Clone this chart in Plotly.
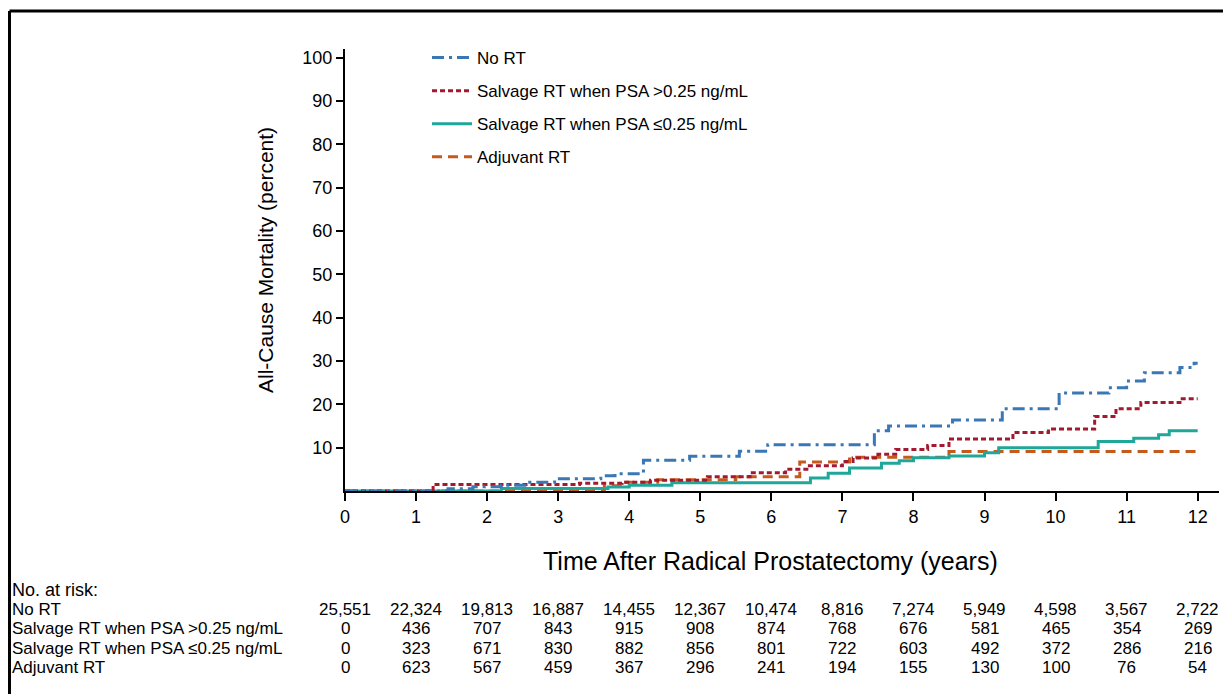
import plotly.graph_objects as go

# ---------------- data ----------------
series_names = ["No RT", "Salvage RT when PSA >0.25 ng/mL",
                "Salvage RT when PSA ≤0.25 ng/mL", "Adjuvant RT"]

t_no_rt = [0, 1.45, 1.8, 2.2, 2.6, 2.95, 3.6, 3.8, 4.2, 4.85, 5.55, 5.95, 7.45, 7.65,
           8.55, 9.25, 10.05, 10.75, 11.0, 11.25, 11.75, 11.95, 12.0]
m_no_rt = [0, 0.5, 1.0, 1.3, 2.0, 2.8, 3.5, 4.0, 7.1, 8.0, 9.2, 10.7, 13.9, 15.0,
           16.4, 19.0, 22.6, 23.8, 25.4, 27.3, 28.5, 29.5, 29.5]

t_salv_hi = [0, 1.24, 3.3, 3.9, 4.3, 5.1, 5.7, 6.2, 6.5, 7.0, 7.15, 7.5, 7.75, 8.2,
             8.5, 9.4, 9.9, 10.55, 10.85, 11.2, 11.75, 12.0]
m_salv_hi = [0, 1.5, 1.8, 2.0, 2.5, 3.3, 4.2, 5.0, 5.8, 6.8, 7.6, 8.5, 9.6, 10.5,
             12.0, 13.5, 14.3, 17.2, 19.0, 20.4, 21.3, 21.3]

t_salv_lo = [0, 2.2, 3.7, 4.0, 4.6, 6.55, 6.8, 7.1, 7.55, 7.8, 8.0, 8.5, 9.0, 9.2,
             10.6, 11.1, 11.45, 11.6, 12.0]
m_salv_lo = [0, 0.6, 0.9, 1.3, 1.9, 3.0, 4.1, 5.3, 6.4, 7.0, 7.7, 8.1, 8.8, 10.0,
             11.4, 12.2, 13.0, 13.9, 13.9]

t_adj = [0, 3.65, 3.95, 4.4, 5.5, 6.4, 7.1, 8.5, 12.0]
m_adj = [0, 1.2, 2.0, 2.6, 3.3, 6.7, 7.8, 9.1, 9.1]

x_ticks = list(range(0, 13))
y_ticks = [10, 20, 30, 40, 50, 60, 70, 80, 90, 100]

risk_no_rt = ["25,551", "22,324", "19,813", "16,887", "14,455", "12,367", "10,474",
              "8,816", "7,274", "5,949", "4,598", "3,567", "2,722"]
risk_salv_hi = ["0", "436", "707", "843", "915", "908", "874", "768", "676", "581",
                "465", "354", "269"]
risk_salv_lo = ["0", "323", "671", "830", "882", "856", "801", "722", "603", "492",
                "372", "286", "216"]
risk_adj = ["0", "623", "567", "459", "367", "296", "241", "194", "155", "130",
            "100", "76", "54"]

# ---------------- styles ----------------
colors = ["#3a77b5", "#a3192f", "#1fa79a", "#c65a1d"]
dashes = ["12px,5px,3px,5px", "5px,3px", "solid", "10px,6px"]
FONT = "Liberation Sans, Arial, Helvetica, sans-serif"

OFF = 8                      # page body margin of the browser
W, H = 1231 - OFF, 694 - OFF
L, R, T, B = 337, 12, 41, 203
PW, PH = W - L - R, H - T - B


def fx(px):   # window pixel x -> paper x
    return (px - OFF - L) / PW


def fy(py):   # window pixel y -> paper y
    return (H - B - (py - OFF)) / PH


fig = go.Figure()
curves = [(t_no_rt, m_no_rt), (t_salv_hi, m_salv_hi), (t_salv_lo, m_salv_lo), (t_adj, m_adj)]
for i in [3, 2, 1, 0]:
    t, m = curves[i]
    fig.add_trace(go.Scatter(
        x=t, y=m, mode="lines", name=series_names[i], legendgroup=f"g{i}",
        legendrank=i + 1,
        line=dict(color=colors[i], width=3, dash=dashes[i], shape="hv"),
        hoverinfo="skip"))

fig.update_layout(
    width=W, height=H,
    margin=dict(l=L, r=R, t=T, b=B, autoexpand=False),
    paper_bgcolor="white", plot_bgcolor="white",
    font=dict(family=FONT, color="black"),
    showlegend=True,
    legend=dict(x=fx(427), y=fy(40), xanchor="left", yanchor="top",
                font=dict(size=17, family=FONT), tracegroupgap=8,
                bgcolor="rgba(0,0,0,0)", itemwidth=40, traceorder="grouped"),
    xaxis=dict(range=[0, 12.3], tickvals=x_ticks, ticks="outside", ticklen=8,
               tickwidth=2, tickcolor="black", showline=True, linecolor="black",
               linewidth=2, showgrid=False, zeroline=False,
               tickfont=dict(size=18, family=FONT)),
    yaxis=dict(range=[0, 102], tickvals=y_ticks, ticks="outside", ticklen=7,
               tickwidth=2, tickcolor="black", showline=True, linecolor="black",
               linewidth=2, showgrid=False, zeroline=False,
               tickfont=dict(size=18, family=FONT)),
)

ann = []
ann.append(dict(text="All-Cause Mortality (percent)", xref="paper", yref="paper",
                x=fx(265), y=fy(260), textangle=-90, showarrow=False,
                font=dict(size=21, family=FONT), xanchor="center", yanchor="middle"))
ann.append(dict(text="Time After Radical Prostatectomy (years)", xref="paper", yref="paper",
                x=fx(770), y=fy(561), showarrow=False,
                font=dict(size=25, family=FONT), xanchor="center", yanchor="middle"))

ann.append(dict(text="No. at risk:", xref="paper", yref="paper", x=fx(10),
                y=fy(590), showarrow=False, xanchor="left", yanchor="middle",
                font=dict(size=18, family=FONT)))
rows = [risk_no_rt, risk_salv_hi, risk_salv_lo, risk_adj]
row_y = [609, 628, 648, 667]
for name, vals, ry in zip(series_names, rows, row_y):
    ann.append(dict(text=name, xref="paper", yref="paper", x=fx(10),
                    y=fy(ry), showarrow=False, xanchor="left", yanchor="middle",
                    font=dict(size=17, family=FONT)))
    for xv, v in zip(x_ticks, vals):
        ann.append(dict(text=v, xref="x", yref="paper", x=xv, y=fy(ry),
                        showarrow=False, xanchor="center", yanchor="middle",
                        font=dict(size=17, family=FONT)))
fig.update_layout(annotations=ann)

# outer frame (top and left edges visible)
fig.add_shape(type="line", xref="paper", yref="paper",
              x0=fx(9.5), x1=fx(1240), y0=fy(11), y1=fy(11),
              line=dict(color="black", width=3))
fig.add_shape(type="line", xref="paper", yref="paper",
              x0=fx(9.5), x1=fx(9.5), y0=fy(11), y1=fy(700),
              line=dict(color="black", width=3))

fig.write_html("out.html")
